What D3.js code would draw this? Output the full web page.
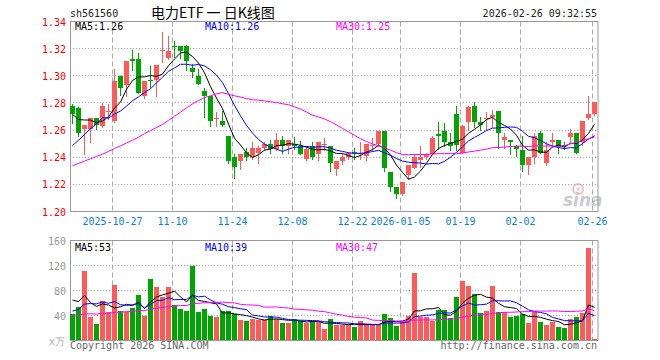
<!DOCTYPE html>
<html>
<head>
<meta charset="utf-8">
<script src="https://cdn.jsdelivr.net/npm/d3@7"></script>
<style>
  body { margin: 0; background: #fff; }
  svg { display: block; }
  text { font-family: "DejaVu Sans Mono", monospace; font-size: 10px; }
</style>
</head>
<body>
<svg id="chart" width="660" height="360"></svg>
<script>
const code = "sh561560";
const title = "电力ETF 一 日K线图";
const stamp = "2026-02-26 09:32:55";

const tickIdx = [7, 17, 27, 37, 47, 55, 65, 75, 87];
const tickLabels = ["2025-10-27", "11-10", "11-24", "12-08", "12-22", "2026-01-05", "01-19", "02-02", "02-26"];

const priceTicks = [1.20, 1.22, 1.24, 1.26, 1.28, 1.30, 1.32, 1.34];
const volTicks = [40, 80, 120, 160];

// daily candles, oldest first
const open = [1.278, 1.276, 1.261, 1.261, 1.269, 1.263, 1.273, 1.267, 1.300, 1.293,
  1.312, 1.312, 1.285, 1.297, 1.297, 1.318, 1.313, 1.322, 1.322, 1.322,
  1.306, 1.300, 1.289, 1.285, 1.268, 1.267, 1.256, 1.240, 1.237, 1.244,
  1.240, 1.243, 1.247, 1.250, 1.246, 1.253, 1.248, 1.250, 1.248, 1.239,
  1.248, 1.242, 1.249, 1.248, 1.231, 1.237, 1.240, 1.244, 1.242, 1.241,
  1.248, 1.250, 1.259, 1.229, 1.218, 1.213, 1.227, 1.232, 1.238, 1.240,
  1.242, 1.257, 1.259, 1.251, 1.272, 1.243, 1.266, 1.278, 1.266, 1.268,
  1.270, 1.274, 1.253, 1.253, 1.248, 1.245, 1.234, 1.240, 1.258, 1.236,
  1.251, 1.253, 1.249, 1.255, 1.258, 1.251, 1.269, 1.272];
const high = [1.279, 1.277, 1.264, 1.269, 1.269, 1.280, 1.279, 1.305, 1.300, 1.311,
  1.319, 1.317, 1.296, 1.307, 1.308, 1.332, 1.329, 1.326, 1.322, 1.323,
  1.309, 1.305, 1.291, 1.285, 1.273, 1.274, 1.256, 1.242, 1.242, 1.247,
  1.251, 1.248, 1.251, 1.253, 1.258, 1.256, 1.253, 1.255, 1.252, 1.248,
  1.251, 1.251, 1.254, 1.248, 1.237, 1.243, 1.244, 1.247, 1.251, 1.250,
  1.254, 1.259, 1.259, 1.229, 1.218, 1.222, 1.234, 1.242, 1.248, 1.243,
  1.256, 1.266, 1.265, 1.258, 1.278, 1.264, 1.278, 1.281, 1.270, 1.273,
  1.275, 1.274, 1.258, 1.253, 1.249, 1.256, 1.240, 1.258, 1.259, 1.251,
  1.258, 1.253, 1.251, 1.261, 1.258, 1.267, 1.285, 1.281];
const low = [1.265, 1.256, 1.242, 1.251, 1.261, 1.262, 1.268, 1.266, 1.286, 1.285,
  1.304, 1.287, 1.284, 1.292, 1.285, 1.310, 1.312, 1.314, 1.313, 1.304,
  1.299, 1.294, 1.270, 1.263, 1.263, 1.263, 1.236, 1.225, 1.231, 1.238,
  1.239, 1.236, 1.245, 1.243, 1.245, 1.243, 1.243, 1.246, 1.242, 1.238,
  1.239, 1.238, 1.245, 1.230, 1.227, 1.235, 1.239, 1.239, 1.239, 1.238,
  1.245, 1.248, 1.230, 1.215, 1.210, 1.212, 1.224, 1.232, 1.233, 1.239,
  1.242, 1.246, 1.248, 1.245, 1.245, 1.243, 1.260, 1.262, 1.260, 1.260,
  1.262, 1.247, 1.247, 1.242, 1.241, 1.230, 1.228, 1.236, 1.243, 1.234,
  1.249, 1.243, 1.246, 1.252, 1.243, 1.249, 1.268, 1.271];
const close = [1.272, 1.258, 1.264, 1.269, 1.264, 1.278, 1.274, 1.296, 1.291, 1.311,
  1.311, 1.287, 1.296, 1.296, 1.308, 1.319, 1.318, 1.321, 1.318, 1.311,
  1.303, 1.294, 1.285, 1.267, 1.269, 1.264, 1.237, 1.233, 1.242, 1.240,
  1.247, 1.247, 1.250, 1.246, 1.253, 1.248, 1.253, 1.248, 1.242, 1.246,
  1.240, 1.251, 1.250, 1.236, 1.237, 1.240, 1.243, 1.243, 1.243, 1.250,
  1.249, 1.259, 1.232, 1.218, 1.213, 1.222, 1.234, 1.240, 1.240, 1.242,
  1.254, 1.256, 1.251, 1.248, 1.249, 1.263, 1.277, 1.266, 1.264, 1.269,
  1.271, 1.258, 1.255, 1.251, 1.246, 1.234, 1.240, 1.256, 1.243, 1.245,
  1.253, 1.248, 1.248, 1.258, 1.243, 1.267, 1.272, 1.281];
// volume, x万
const volume = [43, 54, 112, 38, 26, 63, 45, 89, 47, 46,
  52, 73, 39, 98, 86, 69, 86, 57, 50, 47,
  120, 46, 50, 39, 38, 47, 47, 42, 33, 31,
  34, 33, 33, 39, 34, 28, 28, 34, 31, 28,
  31, 29, 18, 34, 25, 25, 25, 21, 31, 25,
  25, 25, 42, 36, 23, 30, 39, 108, 38, 38,
  31, 49, 49, 36, 70, 95, 87, 74, 44, 47,
  87, 46, 46, 38, 39, 42, 28, 46, 30, 25,
  30, 21, 20, 34, 38, 44, 148, 2];

// days before the window (not drawn), estimated from where the MA lines start
const priorClose = [1.207, 1.212, 1.217, 1.213, 1.227, 1.213, 1.234, 1.230, 1.249, 1.250,
  1.219, 1.218, 1.229, 1.240, 1.251, 1.227, 1.230, 1.227, 1.220, 1.212,
  1.219, 1.222, 1.226, 1.228, 1.233, 1.277, 1.266, 1.269, 1.274];
const priorVolume = [30, 34, 28, 40, 36, 31, 45, 33, 29, 38,
  42, 30, 36, 33, 39, 35, 31, 37, 40, 33,
  25, 28, 30, 31, 32, 67, 61, 97, 56];

const maDefs = [
  { n: 5, color: "#000", lx: 75 },
  { n: 10, color: "#0000ff", lx: 205 },
  { n: 30, color: "#ff00ff", lx: 336 },
];

const upColor = "#ff5a5a";
const downColor = "#00a600";
const gridColor = "#aaa";

function movingAvg(prior, values, n) {
  const all = prior.concat(values);
  return values.map((_, i) => d3.mean(all.slice(prior.length + i - n + 1, prior.length + i + 1)));
}

const crisp = (v) => Math.floor(v) + 0.5;

const svg = d3.select("#chart");

const left = 70, right = 598;
const pTop = 21.5, pBottom = 211.5;
const vTop = 240.5, vBottom = 340.5;

const x = d3.scaleBand().domain(d3.range(close.length)).range([left, right]);
const yP = d3.scaleLinear().domain([1.20, 1.34]).range([pBottom, pTop]);
const yV = d3.scaleLinear().domain([0, 160]).range([vBottom, vTop]);

// header
svg.append("text").attr("x", 70).attr("y", 17).attr("fill", "#222").text(code);
svg.append("text").attr("x", 151).attr("y", 18)
  .style("font-family", "'Noto Sans CJK SC', sans-serif").style("font-size", "14px")
  .attr("fill", "#000").text(title);
svg.append("text").attr("x", 597).attr("y", 17).attr("text-anchor", "end").attr("fill", "#222").text(stamp);

// grids
const grid = svg.append("g");
priceTicks.slice(1, -1).forEach((t) => {
  grid.append("line").attr("x1", left).attr("x2", right)
    .attr("y1", crisp(yP(t))).attr("y2", crisp(yP(t)))
    .attr("stroke", gridColor).attr("stroke-dasharray", "1,2");
});
volTicks.slice(0, -1).forEach((t) => {
  grid.append("line").attr("x1", left).attr("x2", right)
    .attr("y1", crisp(yV(t))).attr("y2", crisp(yV(t)))
    .attr("stroke", gridColor).attr("stroke-dasharray", "1,2");
});
tickIdx.forEach((idx) => {
  [[pTop, pBottom], [vTop, vBottom]].forEach(([a, b]) => {
    grid.append("line").attr("x1", x(idx) + 0.5).attr("x2", x(idx) + 0.5)
      .attr("y1", a).attr("y2", b)
      .attr("stroke", gridColor).attr("stroke-dasharray", "5,3");
  });
});

// sina watermark
const wm = svg.append("g").attr("opacity", 0.5);
wm.append("circle").attr("cx", 578).attr("cy", 189).attr("r", 5).attr("fill", "none").attr("stroke", "#f08080").attr("stroke-width", 2);
wm.append("circle").attr("cx", 578).attr("cy", 189).attr("r", 1.5).attr("fill", "#f08080");
wm.append("text").attr("x", 563).attr("y", 206)
  .style("font-family", "'DejaVu Sans', sans-serif").style("font-size", "17px")
  .style("font-weight", "bold").style("font-style", "italic")
  .attr("fill", "#999").text("sina");

// frames
[[pTop, pBottom], [vTop, vBottom]].forEach(([a, b]) => {
  svg.append("rect").attr("x", left + 0.5).attr("y", a)
    .attr("width", right - left - 0.5).attr("height", b - a)
    .attr("fill", "none").attr("stroke", "#999");
});

// price axis
svg.append("g").selectAll("text").data(priceTicks).join("text")
  .attr("x", 66).attr("y", (d) => Math.round(yP(d)) + 4)
  .attr("text-anchor", "end").attr("fill", "#f00")
  .text((d) => d.toFixed(2));

// volume axis
svg.append("g").selectAll("text").data(volTicks).join("text")
  .attr("x", 66).attr("y", (d) => Math.round(yV(d)) + 4)
  .attr("text-anchor", "end").attr("fill", "#999")
  .text((d) => d);
svg.append("text").attr("x", 49).attr("y", 345).attr("fill", "#aaa").text("x万");

// date labels
svg.append("g").selectAll("text").data(tickIdx).join("text")
  .attr("x", (d) => x(d) + 0.5).attr("y", 225)
  .attr("text-anchor", "middle").attr("fill", "#0a7fd6")
  .text((d, i) => tickLabels[i]);

// candles
const candles = svg.append("g");
close.forEach((c, i) => {
  const color = c >= open[i] ? upColor : downColor;
  const cx = x(i) + 2.5;
  candles.append("line").attr("x1", cx).attr("x2", cx)
    .attr("y1", Math.round(yP(high[i]))).attr("y2", Math.round(yP(low[i])) + 1)
    .attr("stroke", color);
  const y1 = Math.round(yP(Math.max(open[i], c)));
  const y2 = Math.round(yP(Math.min(open[i], c)));
  candles.append("rect").attr("x", x(i)).attr("width", 5)
    .attr("y", y1).attr("height", Math.max(1, y2 - y1))
    .attr("fill", color);
});

// volume bars
svg.append("g").selectAll("rect").data(volume).join("rect")
  .attr("x", (d, i) => x(i)).attr("width", 5)
  .attr("y", (d) => Math.round(yV(d)))
  .attr("height", (d) => Math.round(vBottom - 0.5) - Math.round(yV(d)))
  .attr("fill", (d, i) => close[i] >= open[i] ? upColor : downColor);

// moving averages
maDefs.forEach((m) => {
  const pm = movingAvg(priorClose, close, m.n);
  const vm = movingAvg(priorVolume, volume, m.n);
  svg.append("path").datum(pm)
    .attr("d", d3.line().x((d, i) => x(i) + 2.5).y((d) => yP(d)))
    .attr("fill", "none").attr("stroke", m.color).attr("stroke-width", 1);
  svg.append("path").datum(vm)
    .attr("d", d3.line().x((d, i) => x(i) + 2.5).y((d) => yV(d)))
    .attr("fill", "none").attr("stroke", m.color).attr("stroke-width", 1);
  svg.append("text").attr("x", m.lx).attr("y", 30).attr("fill", m.color)
    .text(`MA${m.n}:${pm[pm.length - 1].toFixed(2)}`);
  svg.append("text").attr("x", m.lx).attr("y", 251).attr("fill", m.color)
    .text(`MA${m.n}:${Math.round(vm[vm.length - 1])}`);
});

// footer
svg.append("text").attr("x", 70).attr("y", 349).attr("fill", "#666").text("Copyright 2026 SINA.COM");
svg.append("text").attr("x", 597).attr("y", 349).attr("text-anchor", "end").attr("fill", "#666").text("http://finance.sina.com.cn");
</script>
</body>
</html>
